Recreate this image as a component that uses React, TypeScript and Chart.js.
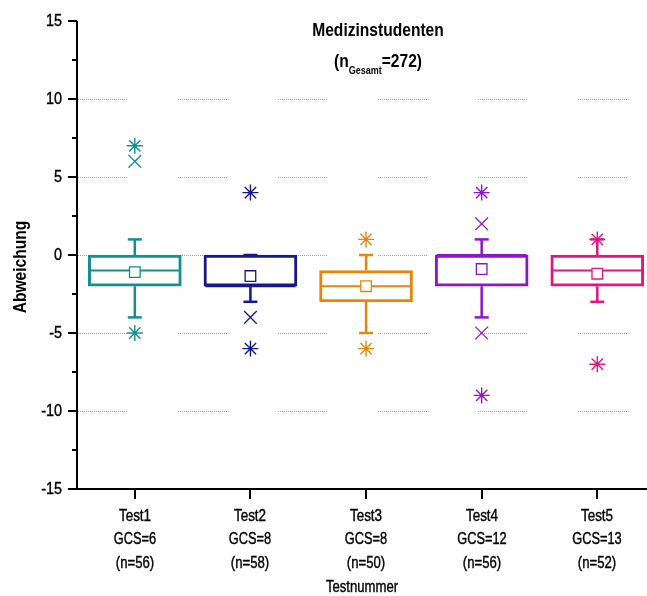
import React, { useEffect, useRef } from 'react';
import { Chart, registerables } from 'chart.js';
Chart.register(...registerables);

const categories = ['Test1', 'Test2', 'Test3', 'Test4', 'Test5'];
const gcsLabels = ['GCS=6', 'GCS=8', 'GCS=8', 'GCS=12', 'GCS=13'];
const nLabels = ['(n=56)', '(n=58)', '(n=50)', '(n=56)', '(n=52)'];
const colors = ['#13908c', '#17178c', '#e5870c', '#8c16c8', '#e2167f'];
const q1 = [-2, -2, -3, -2, -2];
const q3 = [0, 0, -1, 0, 0];
const medians = [-1, -2, -2, 0, -1];
const whiskerLow = [-4, -3, -5, -4, -3];
const whiskerHigh = [1, 0, 0, 1, 1];
const means = [-1.1, -1.35, -2, -0.9, -1.2];
const starOutliers = [[7, -5], [4, -6], [1, -6], [4, -9], [1, -7]];
const crossOutliers = [[6], [-4], [], [2, -5], []];
const yTickValues = [-15, -10, -5, 0, 5, 10, 15];
const yMinorValues = [-12.5, -7.5, -2.5, 2.5, 7.5, 12.5];
const gridValues = [-10, -5, 0, 5, 10];

const FONT = '"Liberation Sans", Arial, sans-serif';

function drawText(ctx: CanvasRenderingContext2D, text: string, x: number, y: number, font: string, align: CanvasTextAlign, baseline: CanvasTextBaseline = 'middle', squeeze = 0.82, stroke = 0) {
  ctx.save();
  ctx.translate(x, y);
  ctx.scale(squeeze, 1);
  ctx.font = font;
  ctx.textAlign = align;
  ctx.textBaseline = baseline;
  ctx.fillStyle = '#000';
  ctx.fillText(text, 0, 0);
  if (stroke > 0) {
    ctx.setLineDash([]);
    ctx.strokeStyle = '#000';
    ctx.lineWidth = stroke;
    ctx.strokeText(text, 0, 0);
  }
  ctx.restore();
}

function textWidth(ctx: CanvasRenderingContext2D, text: string, font: string, squeeze = 0.82) {
  ctx.save();
  ctx.font = font;
  const w = ctx.measureText(text).width * squeeze;
  ctx.restore();
  return w;
}

const decor = {
  id: 'decor',
  beforeDatasetsDraw(chart: any) {
    const { ctx, chartArea, scales } = chart;
    const y = scales.y;
    ctx.save();
    ctx.strokeStyle = '#9a9a9a';
    ctx.lineWidth = 1;
    ctx.setLineDash([1, 1]);
    gridValues.forEach((v) => {
      const py = Math.round(y.getPixelForValue(v)) + 0.5;
      for (let s = chartArea.left + 1; s < chartArea.right; s += 100) {
        ctx.beginPath();
        ctx.moveTo(s, py);
        ctx.lineTo(Math.min(s + 50, chartArea.right), py);
        ctx.stroke();
      }
    });
    ctx.restore();
  },
  afterDraw(chart: any) {
    const { ctx, chartArea, scales } = chart;
    const x = scales.x;
    const y = scales.y;
    ctx.save();
    ctx.strokeStyle = '#000';
    ctx.lineWidth = 2;
    ctx.beginPath();
    ctx.moveTo(chartArea.left, chartArea.top);
    ctx.lineTo(chartArea.left, chartArea.bottom);
    ctx.lineTo(chartArea.right, chartArea.bottom);
    ctx.stroke();
    const tickFont = `16px ${FONT}`;
    yTickValues.forEach((v) => {
      const py = Math.round(y.getPixelForValue(v));
      ctx.beginPath();
      ctx.moveTo(chartArea.left - 9, py);
      ctx.lineTo(chartArea.left, py);
      ctx.stroke();
      drawText(ctx, String(v), chartArea.left - 15, py + 1, tickFont, 'right', 'middle', 0.9, 0.4);
    });
    yMinorValues.forEach((v) => {
      const py = Math.round(y.getPixelForValue(v));
      ctx.beginPath();
      ctx.moveTo(chartArea.left - 5, py);
      ctx.lineTo(chartArea.left, py);
      ctx.stroke();
    });
    categories.forEach((c, i) => {
      const px = Math.round(x.getPixelForValue(i + 1));
      ctx.beginPath();
      ctx.moveTo(px, chartArea.bottom);
      ctx.lineTo(px, chartArea.bottom + 10);
      ctx.stroke();
      drawText(ctx, c, px, chartArea.bottom + 28, tickFont, 'center', 'middle', 0.84, 0.4);
      drawText(ctx, gcsLabels[i], px, chartArea.bottom + 51, tickFont, 'center', 'middle', 0.8, 0.4);
      drawText(ctx, nLabels[i], px, chartArea.bottom + 75, tickFont, 'center', 'middle', 0.82, 0.4);
    });
    const big = `bold 19px ${FONT}`;
    const small = `bold 11px ${FONT}`;
    drawText(ctx, 'Medizinstudenten', 378, 31, big, 'center');
    const w1 = textWidth(ctx, '(n', big);
    const w2 = textWidth(ctx, 'Gesamt', small);
    const w3 = textWidth(ctx, '=272)', big);
    let sx = 378 - (w1 + w2 + w3) / 2;
    drawText(ctx, '(n', sx, 67, big, 'left', 'alphabetic');
    sx += w1;
    drawText(ctx, 'Gesamt', sx, 74, small, 'left', 'alphabetic');
    sx += w2;
    drawText(ctx, '=272)', sx, 67, big, 'left', 'alphabetic');
    drawText(ctx, 'Testnummer', (chartArea.left + chartArea.right) / 2, 588, `16px ${FONT}`, 'center', 'middle', 0.82, 0.4);
    ctx.save();
    ctx.translate(21, 267);
    ctx.rotate(-Math.PI / 2);
    drawText(ctx, 'Abweichung', 0, 0, `bold 19px ${FONT}`, 'center');
    ctx.restore();
    ctx.restore();
  },
};

export default function App() {
  const ref = useRef<HTMLCanvasElement>(null);
  useEffect(() => {
    if (!ref.current) return;
    const datasets: any[] = [];
    categories.forEach((_, i) => {
      datasets.push({
        type: 'line',
        data: [
          { x: i + 1, y: whiskerHigh[i] },
          { x: i + 1, y: q3[i] },
          { x: i + 1, y: null },
          { x: i + 1, y: q1[i] },
          { x: i + 1, y: whiskerLow[i] },
        ],
        borderColor: colors[i],
        borderWidth: 2.5,
        pointRadius: 0,
        spanGaps: false,
        order: 5,
      });
    });
    datasets.push({
      type: 'scatter',
      data: categories.flatMap((_, i) => [
        { x: i + 1, y: whiskerHigh[i] },
        { x: i + 1, y: whiskerLow[i] },
      ]),
      pointStyle: 'line',
      pointRadius: 7,
      pointBorderWidth: 2.5,
      pointBorderColor: categories.flatMap((_, i) => [colors[i], colors[i]]),
      order: 4,
    });
    datasets.push({
      type: 'bar',
      data: categories.map((_, i) => ({ x: i + 1, y: [q1[i], q3[i]] })),
      backgroundColor: '#ffffff',
      borderColor: colors,
      borderWidth: 3,
      borderSkipped: false,
      barThickness: 93,
      order: 3,
    });
    datasets.push({
      type: 'scatter',
      data: categories.map((_, i) => ({ x: i + 1, y: medians[i] })),
      pointStyle: 'line',
      pointRadius: 45,
      pointBorderWidth: 2,
      pointBorderColor: colors,
      order: 2,
    });
    datasets.push({
      type: 'scatter',
      data: categories.map((_, i) => ({ x: i + 1, y: means[i] })),
      pointStyle: 'rect',
      pointRadius: 7.5,
      pointBorderWidth: 1.3,
      pointBackgroundColor: '#ffffff',
      pointBorderColor: colors,
      order: 1,
    });
    const starData: any[] = [];
    const starColors: string[] = [];
    starOutliers.forEach((arr, i) => arr.forEach((v) => { starData.push({ x: i + 1, y: v }); starColors.push(colors[i]); }));
    const crossData: any[] = [];
    const crossColors: string[] = [];
    crossOutliers.forEach((arr, i) => arr.forEach((v) => { crossData.push({ x: i + 1, y: v }); crossColors.push(colors[i]); }));
    datasets.push({
      type: 'scatter',
      data: starData,
      pointStyle: 'star',
      pointRadius: 8,
      pointBorderWidth: 1.4,
      pointBorderColor: starColors,
      order: 0,
    });
    datasets.push({
      type: 'scatter',
      data: crossData,
      pointStyle: 'crossRot',
      pointRadius: 9,
      pointBorderWidth: 1.3,
      pointBorderColor: crossColors,
      order: 0,
    });

    const chart = new Chart(ref.current, {
      type: 'bar',
      data: { datasets },
      options: {
        responsive: false,
        animation: false,
        layout: { autoPadding: false, padding: { top: 21, right: 0, left: 0, bottom: 0 } },
        plugins: { legend: { display: false }, tooltip: { enabled: false }, title: { display: false } },
        scales: {
          x: {
            type: 'linear',
            min: 0.5,
            max: 5.43,
            offset: false,
            grid: { display: false, drawTicks: false },
            border: { display: false },
            ticks: { display: false },
            afterFit: (s: any) => { s.height = 107; s.paddingLeft = 0; s.paddingRight = 0; },
          },
          y: {
            type: 'linear',
            min: -15,
            max: 15,
            grid: { display: false, drawTicks: false },
            border: { display: false },
            ticks: { display: false },
            afterFit: (s: any) => { s.width = 77; s.paddingTop = 0; s.paddingBottom = 0; },
          },
        },
      },
      plugins: [decor],
    } as any);
    return () => chart.destroy();
  }, []);
  return (
    <div style={{ position: 'absolute', left: 0, top: 0, width: 647, height: 596, background: '#fff' }}>
      <canvas ref={ref} width={647} height={596} style={{ display: 'block' }} />
    </div>
  );
}
